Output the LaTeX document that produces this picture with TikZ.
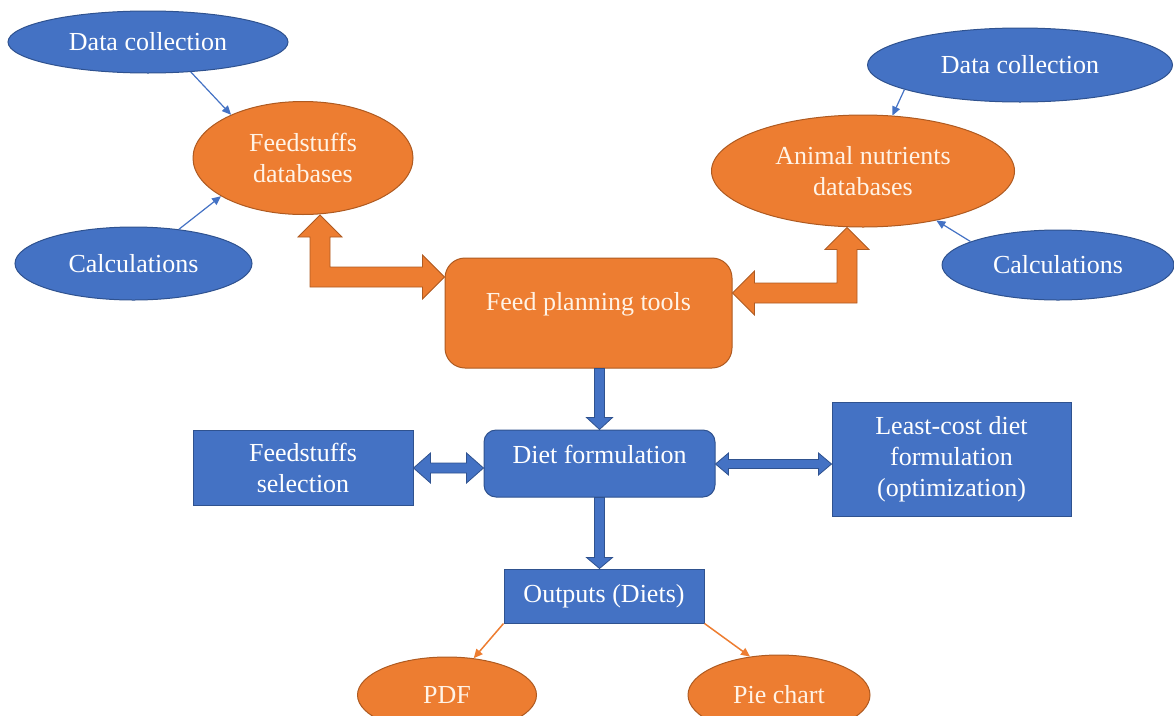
\documentclass[tikz,border=0pt]{standalone}
\usepackage{fontspec}
\setmainfont{Liberation Serif}
\usetikzlibrary{shapes.geometric,arrows.meta,calc}
\definecolor{bfill}{HTML}{4472C4}
\definecolor{bline}{HTML}{2F528F}
\definecolor{ofill}{HTML}{ED7D31}
\definecolor{oline}{HTML}{AE5A21}
\definecolor{otext}{HTML}{FFF3E6}
% vertical block arrow: #1 style, #2 base, #3 tip (below), #4 shaft half, #5 head half, #6 head length
\newcommand\vblockarrow[6]{%
  \draw[#1] ($(#2)+(-#4,0)$) -- ($(#3)+(-#4,-#6)$) -- ($(#3)+(-#5,-#6)$) -- (#3)
    -- ($(#3)+(#5,-#6)$) -- ($(#3)+(#4,-#6)$) -- ($(#2)+(#4,0)$) -- cycle;}
% horizontal double block arrow: #1 style, #2 left tip, #3 right tip, #4 shaft half, #5 head half, #6 head length
\newcommand\hdblockarrow[6]{%
  \draw[#1] (#2) -- ($(#2)+(#6,-#5)$) -- ($(#2)+(#6,-#4)$) -- ($(#3)+(-#6,-#4)$) -- ($(#3)+(-#6,-#5)$)
    -- (#3) -- ($(#3)+(-#6,#5)$) -- ($(#3)+(-#6,#4)$) -- ($(#2)+(#6,#4)$) -- ($(#2)+(#6,#5)$) -- cycle;}
\begin{document}
\begin{tikzpicture}[x=1pt,y=-1pt,
  base/.style={inner sep=0pt, align=center, font=\fontsize{26}{31}\selectfont, line width=1pt},
  bell/.style={base, ellipse, fill=bfill, draw=bline, text=white},
  oell/.style={base, ellipse, fill=ofill, draw=oline, text=otext},
  bbox/.style={base, rectangle, fill=bfill, draw=bline, text=white},
  obox/.style={base, rectangle, fill=ofill, draw=oline, text=otext},
  bblock/.style={fill=bfill, draw=bline, line width=0.8pt, line join=miter},
  oblock/.style={fill=ofill, draw=oline, line width=0.8pt, line join=miter},
  bthin/.style={draw=bfill, line width=1.2pt, -{Triangle[length=9pt,width=8pt]}},
  othin/.style={draw=ofill, line width=1.5pt, -{Triangle[length=9pt,width=8pt]}},
]
\useasboundingbox (0,0) rectangle (1174,715);
\clip (0,0) rectangle (1174,715);

% top left
\node[bell, minimum width=280pt, minimum height=62pt] (dc1) at (148,42) {Data collection};
\node[oell, minimum width=220pt, minimum height=113pt] (fd) at (303,158) {Feedstuffs\\databases};
\node[bell, minimum width=237pt, minimum height=73pt] (ca1) at (133.5,263.5) {Calculations};

% top right
\node[bell, minimum width=305pt, minimum height=74pt] (dc2) at (1020,65) {Data collection};
\node[oell, minimum width=303pt, minimum height=112pt] (and) at (863,171) {Animal nutrients\\databases};
\node[bell, minimum width=232pt, minimum height=70pt] (ca2) at (1058,265) {Calculations};

% centre
\node[obox, rounded corners=20pt, minimum width=287pt, minimum height=110pt,
      text height=18pt, text depth=24pt] (fpt) at (588.5,313) {Feed planning tools};
\node[bbox, rounded corners=12pt, minimum width=231pt, minimum height=67pt,
      text height=18pt, text depth=18pt] (df) at (599.5,463.5) {Diet formulation};
\node[bbox, minimum width=220pt, minimum height=75pt] (fs) at (303,467.5) {Feedstuffs\\selection};
\node[bbox, minimum width=239pt, minimum height=114pt] (lc) at (951.5,459) {Least-cost diet\\formulation\\(optimization)};
\node[bbox, minimum width=200pt, minimum height=54pt] (out) at (604,596) {Outputs (Diets)};

% bottom
\node[oell, minimum width=179pt, minimum height=76pt] (pdf) at (447,695) {PDF};
\node[oell, minimum width=182pt, minimum height=80pt] (pie) at (779,695) {Pie chart};

% thin arrows
\draw[bthin] (dc1.-35) -- (fd.149);
\draw[bthin] (ca1.37) -- (fd.205);
\draw[bthin] (dc2.192) -- (and.62);
\draw[bthin] (ca2.165) -- (and.-34);
\draw[othin] (out.south west) -- (pdf.54);
\draw[othin] (out.south east) -- (pie.127);

% orange L-shaped double block arrows
\coordinate (c1) at (320,277);
\coordinate (t1) at (fd.south -| c1);
\coordinate (t2) at (fpt.west |- c1);
\draw[oblock] (t1) -- ($(t1)+(22,22)$) -- ($(t1)+(10,22)$) -- ($(c1)+(10,-10)$)
  -- ($(t2)+(-22,-10)$) -- ($(t2)+(-22,-22)$) -- (t2) -- ($(t2)+(-22,22)$) -- ($(t2)+(-22,10)$)
  -- ($(c1)+(-10,10)$) -- ($(t1)+(-10,22)$) -- ($(t1)+(-22,22)$) -- cycle;

\coordinate (c2) at (847,293);
\coordinate (t3) at (and.south -| c2);
\coordinate (t4) at (fpt.east |- c2);
\draw[oblock] (t3) -- ($(t3)+(22,22)$) -- ($(t3)+(10,22)$) -- ($(c2)+(10,10)$)
  -- ($(t4)+(22,10)$) -- ($(t4)+(22,22)$) -- (t4) -- ($(t4)+(22,-22)$) -- ($(t4)+(22,-10)$)
  -- ($(c2)+(-10,-10)$) -- ($(t3)+(-10,22)$) -- ($(t3)+(-22,22)$) -- cycle;

% blue block arrows
\coordinate (v1) at (df.north |- fpt.south);
\vblockarrow{bblock}{v1}{df.north}{5}{13}{12}
\coordinate (v2) at (out.north -| df.south);
\vblockarrow{bblock}{df.south}{v2}{5}{13}{11}

\coordinate (a1) at (0,468);
\coordinate (l1) at (fs.east |- a1);
\coordinate (r1) at (df.west |- a1);
\hdblockarrow{bblock}{l1}{r1}{5}{15}{17}
\coordinate (a2) at (0,464);
\coordinate (l2) at (df.east |- a2);
\coordinate (r2) at (lc.west |- a2);
\hdblockarrow{bblock}{l2}{r2}{4.5}{11}{13}
\end{tikzpicture}
\end{document}
